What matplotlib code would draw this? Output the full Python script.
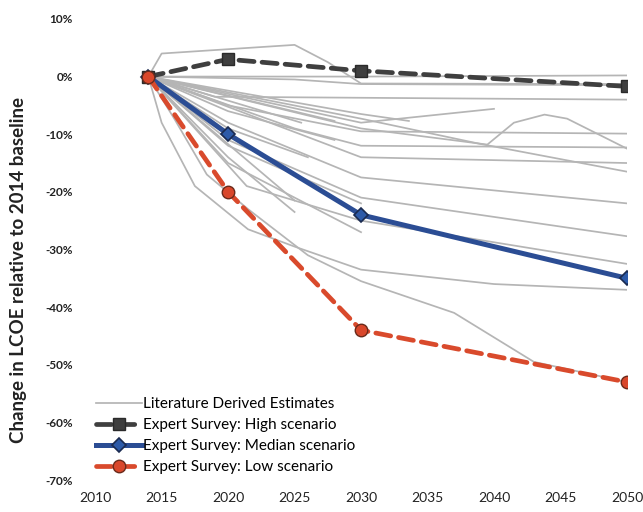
import matplotlib
matplotlib.use("Agg")
import matplotlib.pyplot as plt
from matplotlib.ticker import FixedLocator

plt.rcParams['font.family'] = ['Lato', 'DejaVu Sans']

# Expert survey scenarios (% change in LCOE vs. 2014)
survey_years = [2014, 2020, 2030, 2050]
high_scenario = [0, 3, 1, -1.7]
median_scenario = [0, -10, -24, -35]
low_scenario = [0, -20, -44, -53]

# Literature-derived estimates: (years, % change) per study
lit_long = [
    ([2014, 2015, 2025, 2027.5, 2030, 2050], [0, 4, 5.5, 2.5, -1.2, -1.3]),
    ([2014, 2030, 2050], [0, 0, 0.2]),
    ([2014, 2025, 2030, 2050], [0, -0.5, -1.3, -1.5]),
    ([2014, 2019, 2050], [0, -3.5, -4.0]),
    ([2014, 2020, 2030, 2050], [0, -5, -9.5, -9.9]),
    ([2014, 2030, 2039.5, 2041.5, 2043.8, 2045.5, 2050], [0, -9, -11.8, -8, -6.6, -7.3, -12.5]),
    ([2014, 2030, 2039, 2050], [0, -7.3, -11.7, -16.5]),
    ([2014, 2025, 2030, 2050], [0, -9, -12, -12.3]),
    ([2014, 2030, 2050], [0, -14, -15]),
    ([2014, 2020, 2030, 2050], [0, -8, -17.5, -22]),
    ([2014, 2020, 2030, 2050], [0, -11, -21, -27.7]),
    ([2014, 2021.4, 2030, 2050], [0, -19, -25, -32.5]),
    ([2014, 2015, 2017.5, 2021.5, 2025, 2030, 2040, 2050], [0, -8, -19, -26.5, -29.5, -33.5, -36, -37]),
    ([2014, 2016, 2018.4, 2021.5, 2026, 2030, 2037, 2043, 2050], [0, -7.5, -17, -23, -31, -35.5, -41, -49.5, -53]),
]
lit_short = [
    ([2014, 2020, 2030], [0, -15, -27]),
    ([2014, 2020, 2025], [0, -14, -23.5]),
    ([2014, 2021.5], [0, -12]),
    ([2014, 2025.5], [0, -8]),
    ([2014, 2028], [0, -7.7]),
    ([2014, 2030, 2033.6], [0, -6.5, -7.7]),
    ([2014, 2030, 2040], [0, -8, -5.6]),
    ([2014, 2025], [0, -21.5]),
    ([2014, 2020, 2030], [0, -12, -22]),
    ([2014, 2020, 2028], [0, -6, -11]),
    ([2014, 2020, 2026], [0, -9, -14]),
]

x_ticks = [2010, 2015, 2020, 2025, 2030, 2035, 2040, 2045, 2050]
y_ticks = [10, 0, -10, -20, -30, -40, -50, -60, -70]

fig = plt.figure(figsize=(6.43, 5.12), dpi=100)
ax = fig.add_axes([0.148, 0.0625, 0.827, 0.9005])

gray = '#b5b5b5'
first = True
for yrs, vals in lit_long + lit_short:
    ax.plot(yrs, vals, color=gray, lw=1.25, zorder=1,
            label='Literature Derived Estimates' if first else None)
    first = False

ax.plot(survey_years, high_scenario, color='#3f3f3f', lw=3.4,
        dashes=(3.2, 1.7), dash_capstyle='round', marker='s', ms=8,
        mfc='#3f3f3f', mec='#2a2a2a', zorder=3,
        label='Expert Survey: High scenario')
ax.plot(survey_years, median_scenario, color='#2b4d94', lw=3.6,
        marker='D', ms=7.5, mfc='#2d5aa8', mec='#1a2a50', mew=1.2, zorder=4,
        label='Expert Survey: Median scenario')
ax.plot(survey_years, low_scenario, color='#d94a2c', lw=3.4,
        dashes=(3.2, 1.7), dash_capstyle='round', marker='o', ms=9,
        mfc='#d9472b', mec='#6a2a1a', mew=1.0, zorder=5,
        label='Expert Survey: Low scenario')

ax.set_xlim(2010, 2050)
ax.set_ylim(-70, 10)
ax.xaxis.set_major_locator(FixedLocator(x_ticks))
ax.yaxis.set_major_locator(FixedLocator(y_ticks))
ax.set_xticklabels([str(t) for t in x_ticks], fontsize=10, color='#222222')
ax.set_yticklabels([f'{t}%' for t in y_ticks], fontsize=8.5,
                   fontweight='bold', color='#222222')
ax.tick_params(length=0)
ax.tick_params(axis='x', pad=9)
ax.tick_params(axis='y', pad=16)
for s in ax.spines.values():
    s.set_visible(False)
ax.set_ylabel('Change in LCOE relative to 2014 baseline', fontsize=13.5,
              fontweight='bold', color='#222222')
ax.yaxis.set_label_coords(-0.128, 0.455)

leg = ax.legend(loc='lower left', bbox_to_anchor=(-0.01, 0.0), frameon=False,
                fontsize=11, handlelength=3.0, handletextpad=0.1,
                labelspacing=0.45, borderaxespad=0)

fig.savefig('out.png', dpi=100)
